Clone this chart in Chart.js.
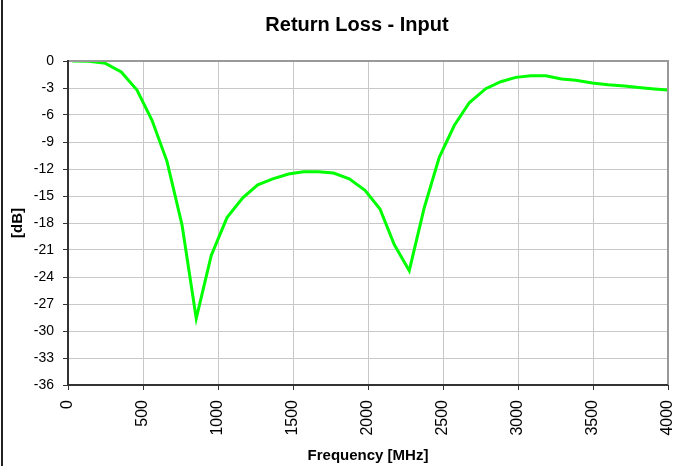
<!DOCTYPE html>
<html>
<head>
<meta charset="utf-8">
<script src="https://cdn.jsdelivr.net/npm/chart.js@4/dist/chart.umd.min.js"></script>
<style>
html,body{margin:0;padding:0;background:#fff;}
#wrap{width:673px;height:466px;position:relative;}
</style>
</head>
<body>
<div id="wrap"><canvas id="c" width="673" height="466"></canvas></div>
<script>
const frequencies = [30, 140, 250, 355, 460, 560, 660, 760, 855, 955, 1060, 1165, 1265, 1365, 1470, 1570, 1670, 1770, 1875, 1980, 2080, 2175, 2275, 2375, 2475, 2575, 2675, 2785, 2885, 2985, 3085, 3185, 3290, 3385, 3495, 3600, 3710, 3820, 3910, 4000];
const returnLoss = [0, -0.02, -0.26, -1.22, -3.23, -6.58, -11.15, -18.2, -28.6, -21.6, -17.4, -15.2, -13.75, -13.1, -12.55, -12.3, -12.3, -12.45, -13.08, -14.38, -16.45, -20.4, -23.3, -16.3, -10.7, -7.17, -4.64, -3.08, -2.3, -1.82, -1.63, -1.63, -2.0, -2.15, -2.45, -2.64, -2.79, -2.97, -3.1, -3.23];
const chartTitle = 'Return Loss - Input';
const xTitle = 'Frequency [MHz]';
const yTitle = '[dB]';

const points = frequencies.map((f, i) => ({x: f, y: returnLoss[i]}));
const FONT = 'Arial, "Liberation Sans", sans-serif';

const frame = {
  id: 'frame',
  beforeDraw(chart) {
    const ctx = chart.ctx;
    ctx.save();
    ctx.fillStyle = '#fff';
    ctx.fillRect(0, 0, chart.width, chart.height);
    ctx.strokeStyle = '#222';
    ctx.lineWidth = 2;
    ctx.beginPath();
    ctx.moveTo(2, 0);
    ctx.lineTo(2, chart.height);
    ctx.stroke();
    ctx.fillStyle = '#000';
    ctx.font = 'bold 20px ' + FONT;
    ctx.textAlign = 'center';
    ctx.textBaseline = 'middle';
    ctx.fillText(chartTitle, 357, 25);
    ctx.restore();
  },
  afterDatasetsDraw(chart) {
    const {ctx, chartArea: a} = chart;
    ctx.save();
    ctx.strokeStyle = '#999';
    ctx.lineWidth = 2;
    ctx.beginPath();
    ctx.moveTo(a.left, a.top);
    ctx.lineTo(a.right, a.top);
    ctx.lineTo(a.right, a.bottom);
    ctx.stroke();
    ctx.strokeStyle = '#333';
    ctx.lineWidth = 2;
    ctx.beginPath();
    ctx.moveTo(a.left, a.top - 1);
    ctx.lineTo(a.left, a.bottom);
    ctx.lineTo(a.right, a.bottom);
    ctx.stroke();
    ctx.restore();
  }
};

new Chart(document.getElementById('c'), {
  type: 'line',
  data: {
    datasets: [{
      data: points,
      borderColor: '#00ff00',
      borderWidth: 3,
      pointRadius: 0,
      tension: 0,
      fill: false
    }]
  },
  options: {
    responsive: false,
    animation: false,
    layout: {padding: {left: 0, right: 5, top: 61, bottom: 0}},
    plugins: {
      legend: {display: false},
      tooltip: {enabled: false},
      title: {display: false}
    },
    scales: {
      x: {
        type: 'linear',
        min: 0, max: 4000,
        afterFit(s) { s.height = 81; s.paddingLeft = 0; s.paddingRight = 0; },
        ticks: {
          stepSize: 500,
          minRotation: 90, maxRotation: 90,
          color: '#000',
          font: {family: FONT, size: 16},
          padding: 10,
          callback: v => String(v)
        },
        grid: {color: '#c8c8c8', lineWidth: 1, tickLength: 5, tickColor: '#333'},
        border: {display: false},
        title: {
          display: true, text: xTitle, color: '#000',
          font: {family: FONT, size: 15, weight: 'bold'},
          padding: {top: 0, bottom: 1}
        }
      },
      y: {
        type: 'linear',
        min: -36, max: 0,
        afterFit(s) { s.width = 68; s.paddingTop = 0; s.paddingBottom = 0; },
        ticks: {
          stepSize: 3,
          color: '#000',
          font: {family: FONT, size: 14},
          padding: 9,
          callback: v => String(v)
        },
        grid: {color: '#c8c8c8', lineWidth: 1, tickLength: 5, tickColor: '#333'},
        border: {display: false},
        title: {
          display: true, text: yTitle, color: '#000',
          font: {family: FONT, size: 15, weight: 'bold'},
          padding: {top: 9, bottom: 0}
        }
      }
    }
  },
  plugins: [frame]
});
</script>
</body>
</html>
